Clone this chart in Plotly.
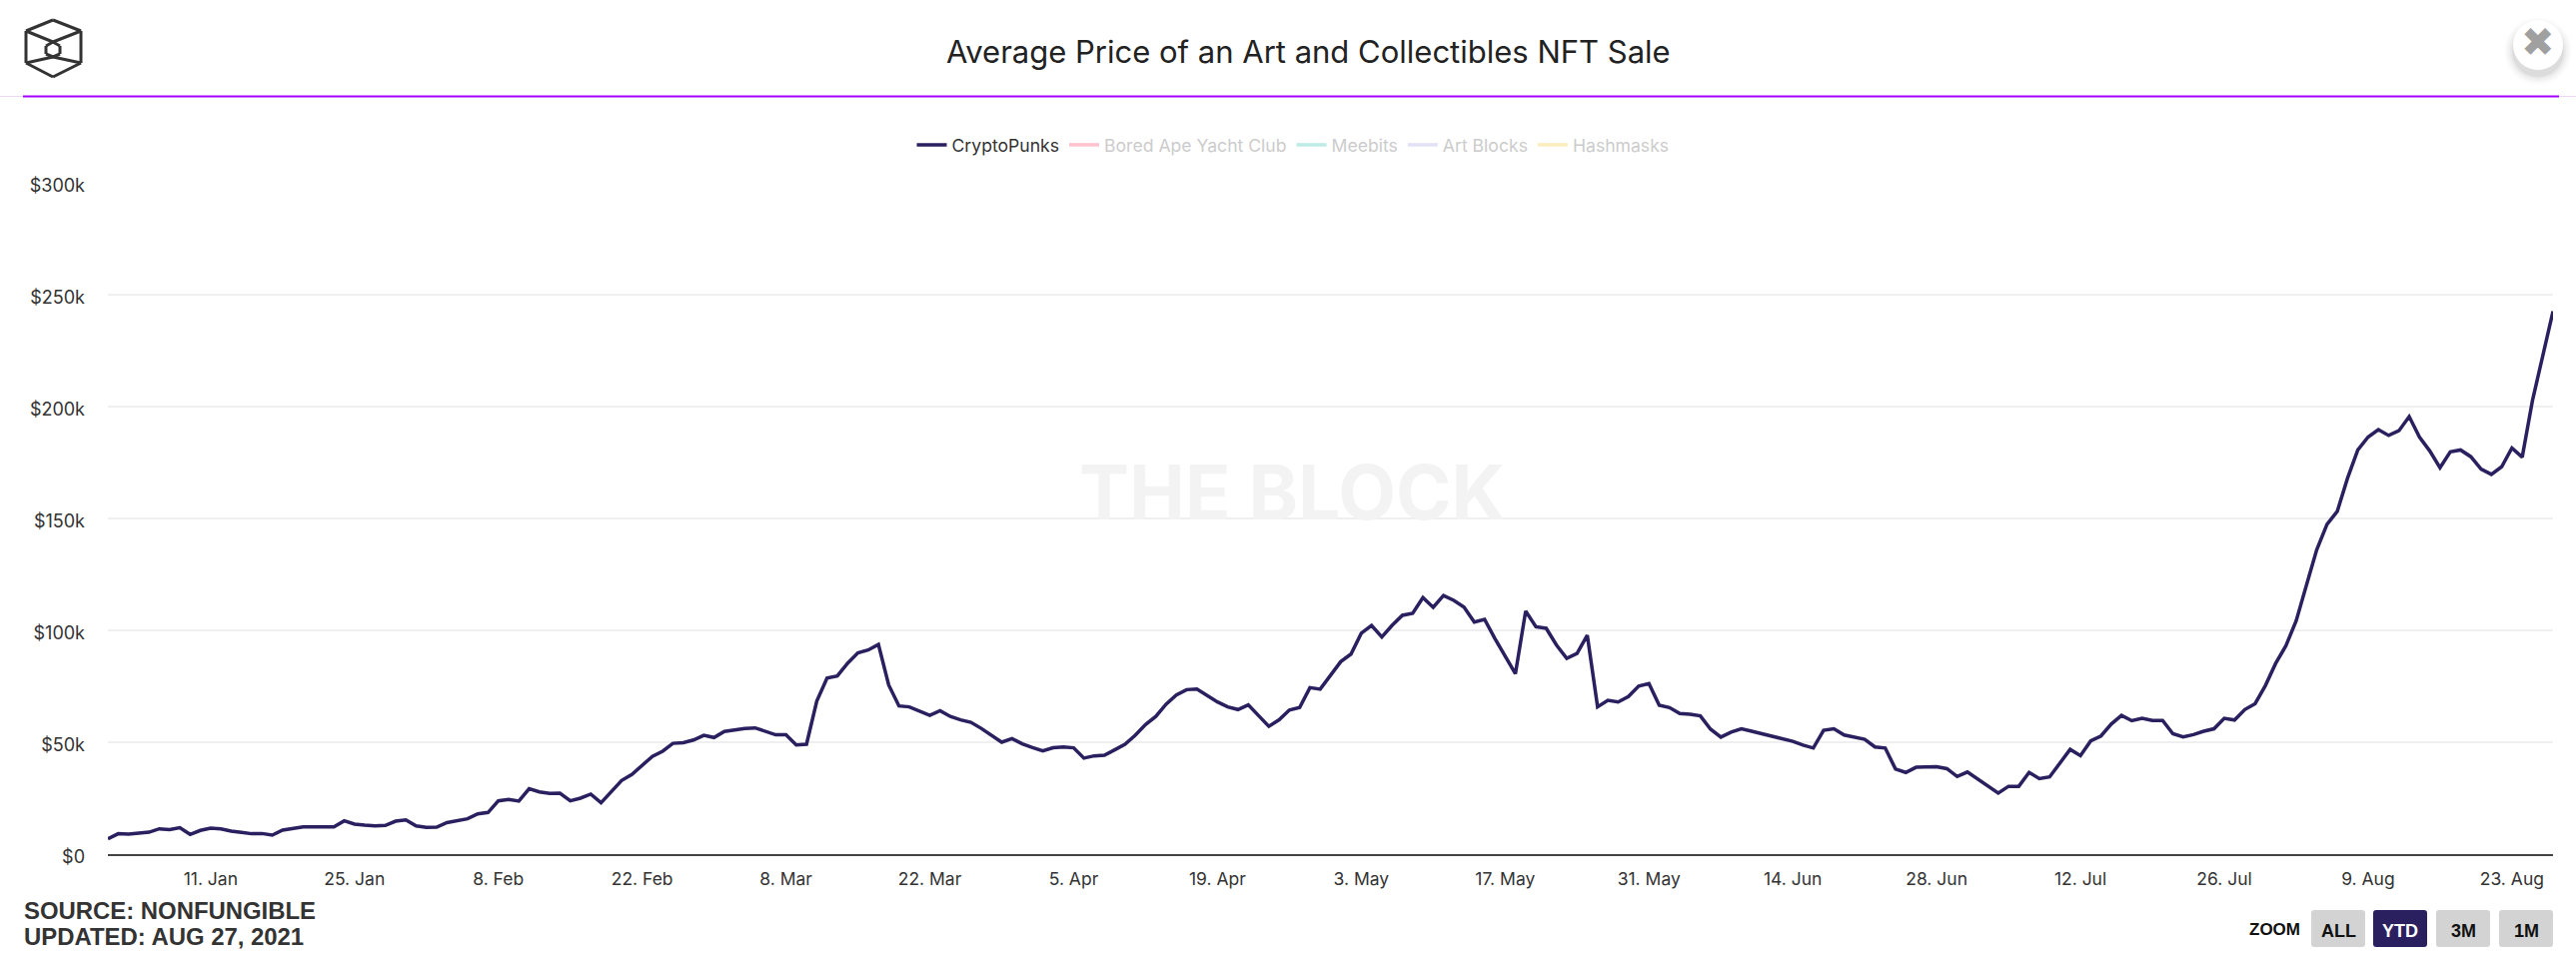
import pandas as pd
import plotly.graph_objects as go

# daily average sale price, in $k (1 Jan - 27 Aug 2021)
punks_k = [
    6.8, 9.1, 8.9, 9.2, 9.8, 11.3, 10.9, 11.8, 8.8, 10.6,
    11.6, 11.3, 10.3, 9.7, 9.1, 9.2, 8.5, 10.7, 11.6, 12.2,
    12.2, 12.2, 12.2, 14.9, 13.4, 12.9, 12.6, 12.8, 14.7, 15.3,
    12.6, 11.9, 12.0, 14.1, 15.0, 15.8, 18.0, 18.6, 23.8, 24.4,
    23.7, 29.2, 27.8, 27.1, 27.2, 23.8, 25.0, 26.8, 22.9, 27.7,
    32.9, 35.6, 39.6, 43.7, 46.0, 49.5, 49.8, 51.0, 53.1, 52.1,
    54.8, 55.5, 56.1, 56.4, 54.8, 53.3, 53.3, 48.8, 49.1, 68.4,
    78.7, 79.6, 85.3, 89.9, 91.2, 93.7, 75.6, 66.2, 65.8, 63.8,
    62.0, 64.1, 61.5, 60.0, 58.9, 56.2, 53.1, 50.0, 51.6, 49.3,
    47.6, 46.1, 47.5, 47.9, 47.5, 42.9, 43.9, 44.2, 46.6, 49.1,
    53.1, 57.9, 61.5, 67.0, 71.1, 73.5, 73.8, 70.7, 68.0, 65.8,
    64.6, 66.7, 61.8, 57.1, 60.0, 64.4, 65.5, 74.4, 73.7, 79.6,
    86.0, 89.4, 98.7, 102.2, 97.0, 102.2, 106.7, 107.6, 114.6, 110.3,
    115.6, 113.4, 110.4, 103.7, 104.9, 96.4, 88.2, 80.6, 108.6, 101.6,
    100.9, 93.4, 87.5, 89.7, 97.8, 65.8, 68.7, 68.0, 70.4, 75.1,
    76.2, 66.5, 65.5, 62.8, 62.5, 61.8, 55.8, 52.3, 54.5, 56.0,
    54.9, 53.8, 52.6, 51.7, 50.4, 48.7, 47.4, 55.3, 56.0, 53.2,
    52.3, 51.3, 47.9, 47.4, 38.0, 36.5, 38.8, 39.0, 39.1, 38.2,
    34.7, 36.7, 33.5, 30.3, 27.3, 30.3, 30.3, 36.5, 33.7, 34.5,
    40.8, 46.8, 44.0, 50.6, 52.8, 58.1, 62.0, 59.6, 60.7, 59.7,
    59.7, 53.8, 52.4, 53.4, 54.9, 56.0, 60.7, 59.9, 64.6, 67.2,
    75.3, 85.2, 93.1, 104.3, 120.2, 136.0, 147.4, 153.2, 168.0, 180.6,
    186.4, 189.7, 187.1, 189.2, 195.5, 186.4, 180.2, 172.7, 179.8, 180.6,
    177.6, 172.1, 169.7, 173.1, 181.5, 177.4, 202.7, 223.3, 242.6,
]
dates = pd.date_range("2021-01-01", periods=len(punks_k), freq="D")

hidden_names = ["Bored Ape Yacht Club", "Meebits", "Art Blocks", "Hashmasks"]
hidden_colors = ["#ff86a0", "#7fd8cc", "#c8c4ee", "#fbdd80"]

y_ticks = [0, 50000, 100000, 150000, 200000, 250000, 300000]
y_labels = ["$0", "$50k", "$100k", "$150k", "$200k", "$250k", "$300k"]
zoom_labels = ["ALL", "YTD", "3M", "1M"]
zoom_left = [2313, 2375, 2438, 2501]

NAVY = "#2a2060"
PLOT_L, PLOT_R, PLOT_T, PLOT_B = 108, 2555, 183, 855


def px(x):
    return (x - PLOT_L) / (PLOT_R - PLOT_L)


def py(y):
    return (PLOT_B - y) / (PLOT_B - PLOT_T)


def paper_line(x0, y0, x1, y1, color, width):
    return dict(type="line", xref="paper", yref="paper", x0=px(x0), y0=py(y0),
                x1=px(x1), y1=py(y1), line=dict(color=color, width=width))


def paper_circle(cx, cy, r, fill):
    return dict(type="circle", xref="paper", yref="paper", x0=px(cx - r), x1=px(cx + r),
                y0=py(cy + r), y1=py(cy - r), fillcolor=fill, line=dict(width=0))


def round_rect(x0, y0, x1, y1, fill, r=3):
    # path in paper coords, so the pixel corners are converted one by one
    pts = [("M", x0 + r, y0), ("L", x1 - r, y0), ("Q", x1, y0, x1, y0 + r), ("L", x1, y1 - r),
           ("Q", x1, y1, x1 - r, y1), ("L", x0 + r, y1), ("Q", x0, y1, x0, y1 - r),
           ("L", x0, y0 + r), ("Q", x0, y0, x0 + r, y0)]
    path = ""
    for p in pts:
        coords = p[1:]
        path += p[0] + " ".join(
            f"{px(coords[i]) if i % 2 == 0 else py(coords[i]):.6f}" for i in range(len(coords))
        ) + " "
    return dict(type="path", xref="paper", yref="paper", path=path + "Z",
                fillcolor=fill, line=dict(width=0))


def label(text, x, y, size, color, family="Inter", xanchor="center", weight=400):
    return dict(text=text, xref="paper", yref="paper", x=px(x), y=py(y), showarrow=False,
                xanchor=xanchor, yanchor="middle",
                font=dict(family=family, size=size, color=color, weight=weight))


fig = go.Figure()
fig.add_trace(go.Scatter(x=dates, y=[v * 1000 for v in punks_k], mode="lines", name="CryptoPunks",
                         line=dict(color=NAVY, width=3.5)))
for name, color in zip(hidden_names, hidden_colors):
    fig.add_trace(go.Scatter(x=dates, y=[None] * len(dates), mode="lines", visible="legendonly",
                             name=f'<span style="color:#999">{name}</span>',
                             line=dict(color=color, width=3.5)))

shapes = [
    paper_line(0, 96.5, 2578, 96.5, "#e8d8f6", 1),
    paper_line(23, 96.5, 2561, 96.5, "#a400ff", 2),
]

# logo
LOGO = "#333333"
hexagon = [(53, 20), (81, 31), (81, 63), (53, 77), (26, 63), (26, 31), (53, 20)]
inner = [(53, 42), (60, 46), (60, 54), (53, 57), (46, 54), (46, 46), (53, 42)]
spokes = [[(26, 31), (53, 42), (81, 31)], [(26, 63), (53, 57), (81, 63)]]
for poly in [hexagon, inner] + spokes:
    for a, b in zip(poly[:-1], poly[1:]):
        shapes.append(paper_line(a[0], a[1], b[0], b[1], LOGO, 3))

# close button, soft shadow first
for r, alpha in [(34, 0.012), (32, 0.018), (30, 0.025), (28, 0.035), (26, 0.05)]:
    shapes.append(paper_circle(2540, 51, r, f"rgba(0,0,0,{alpha})"))
shapes.append(paper_circle(2540, 45, 25, "#ffffff"))

for left, text in zip(zoom_left, zoom_labels):
    shapes.append(round_rect(left, 911, left + 54, 948, NAVY if text == "YTD" else "#d3d3d3"))

annotations = [
    label("Average Price of an Art and Collectibles NFT Sale", 1309, 51, 31, "#222222"),
    label("THE BLOCK", 1293, 492, 75, "#f3f3f3", weight=700),
    label("SOURCE: NONFUNGIBLE", 22, 911, 23.9, "#333333", "Liberation Sans", "left", 700),
    label("UPDATED: AUG 27, 2021", 22, 937, 23.9, "#333333", "Liberation Sans", "left", 700),
    label("ZOOM", 2276, 930, 17, "#111111", "Liberation Sans", weight=700),
    label("✖", 2540, 42, 40, "#a0a0a0", "DejaVu Sans"),
]
for left, text in zip(zoom_left, zoom_labels):
    annotations.append(label(text, left + 27, 932, 18, "#ffffff" if text == "YTD" else "#111111",
                             "Liberation Sans", weight=700))

fig.update_layout(
    width=2578, height=958,
    margin=dict(l=PLOT_L, r=2578 - PLOT_R, t=PLOT_T, b=958 - PLOT_B, pad=0),
    paper_bgcolor="#ffffff", plot_bgcolor="#ffffff",
    font=dict(family="Inter", size=18, color="#333333"),
    showlegend=True,
    legend=dict(orientation="h", x=px(1294), y=py(145), xanchor="center", yanchor="middle",
                font=dict(family="Inter", size=17.6, color="#333333"), bgcolor="rgba(0,0,0,0)"),
    shapes=shapes, annotations=annotations,
    xaxis=dict(range=[dates[0], dates[-1]], tick0="2021-01-11", dtick=14 * 86400000,
               tickformat="%-d. %b", showgrid=False, showline=True, linecolor="#444444",
               linewidth=2, ticks="", ticklabelstandoff=8,
               tickfont=dict(family="Inter", size=17.5, color="#333333")),
    yaxis=dict(range=[0, 300000], tickvals=y_ticks, ticktext=y_labels, gridcolor="#efefef",
               gridwidth=2, zeroline=False, showline=False, ticks="", ticklabelstandoff=22,
               ticklabelshift=3, tickfont=dict(family="Inter", size=18, color="#333333")),
)

fig.write_html("out.html", post_script="document.body.style.margin='0';",
               config={"displayModeBar": False})
